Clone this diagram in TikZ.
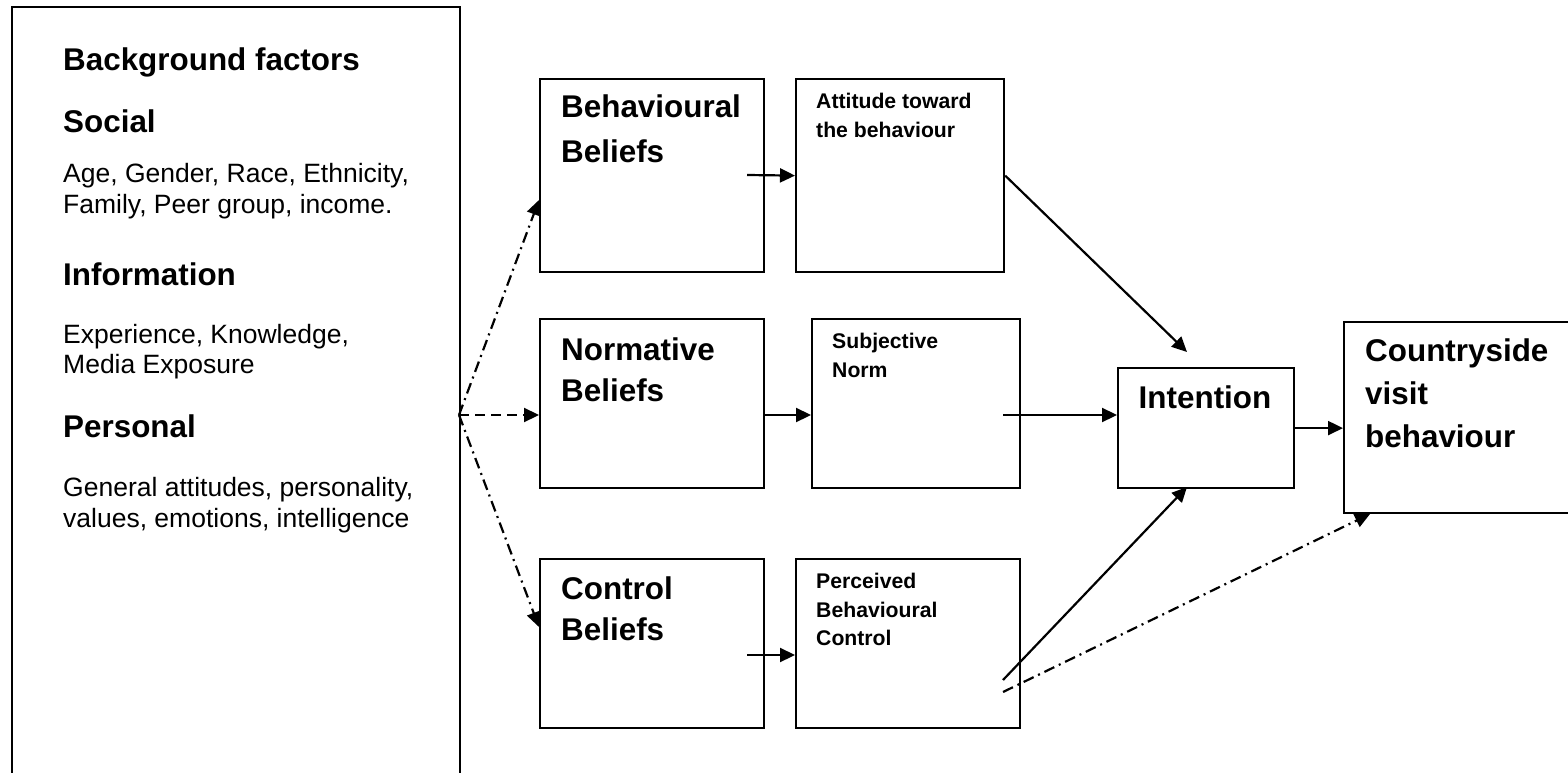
\documentclass[tikz,border=0pt]{standalone}
\usepackage{fontspec}
\setmainfont{Liberation Sans}
\usetikzlibrary{arrows.meta}
\tikzset{
  box/.style={draw, line width=2.2pt, inner sep=0pt, anchor=north west},
  conn/.style={line width=2.2pt, -{Triangle[length=15pt,width=14pt]}},
  ddot/.style={conn, dash pattern=on 11pt off 5pt on 2pt off 5pt},
  dsh/.style={conn, dash pattern=on 10pt off 6pt},
  bigt/.style={font=\fontsize{31.4}{38}\selectfont\bfseries, anchor=base west, inner sep=0pt},
  bodyt/.style={font=\fontsize{26.5}{31}\selectfont, anchor=base west, inner sep=0pt},
  smallt/.style={font=\fontsize{21.2}{26}\selectfont\bfseries, anchor=base west, inner sep=0pt}
}
\begin{document}
\begin{tikzpicture}[x=1pt,y=-1pt]
\useasboundingbox (0,0) rectangle (1568,773);
\clip (0,0) rectangle (1568,773);
\fill[white] (0,0) rectangle (1568,773);
% boxes
\node[box, minimum width=448pt, minimum height=820pt] (bg) at (11,6) {};
\node[box, minimum width=224pt, minimum height=193pt] (bb) at (539,78) {};
\node[box, minimum width=208pt, minimum height=193pt] (att) at (795,78) {};
\node[box, minimum width=224pt, minimum height=169pt] (nb) at (539,318) {};
\node[box, minimum width=208pt, minimum height=169pt] (sn) at (811,318) {};
\node[box, minimum width=224pt, minimum height=169pt] (cb) at (539,558) {};
\node[box, minimum width=224pt, minimum height=169pt] (pbc) at (795,558) {};
\node[box, minimum width=176pt, minimum height=120pt] (int) at (1117,367) {};
\node[box, minimum width=250pt, minimum height=191pt] (cv) at (1343,321) {};
% left texts
\node[bigt] (l1) at (63,71) {Background factors};
\node[bigt] (l2) at (63,132) {Social};
\node[bodyt] (l3) at (63,182) {Age, Gender, Race, Ethnicity,};
\node[bodyt] (l4) at (63,213) {Family, Peer group, income.};
\node[bigt] (l5) at (63,285) {Information};
\node[bodyt] (l6) at (63,343) {Experience, Knowledge,};
\node[bodyt] (l7) at (63,373) {Media Exposure};
\node[bigt] (l8) at (63,437) {Personal};
\node[bodyt] (l9) at (63,496) {General attitudes, personality,};
\node[bodyt] (l10) at (63,527) {values, emotions, intelligence};
% box texts
\node[bigt] (b1) at (561,118) {Behavioural};
\node[bigt] (b2) at (561,162) {Beliefs};
\node[smallt] (a1) at (816,109) {Attitude toward};
\node[smallt] (a2) at (816,138) {the behaviour};
\node[bigt] (n1) at (561,360) {Normative};
\node[bigt] (n2) at (561,401) {Beliefs};
\node[smallt] (s1) at (832,348) {Subjective};
\node[smallt] (s2) at (832,377) {Norm};
\node[bigt] (c1) at (561,599) {Control};
\node[bigt] (c2) at (561,640) {Beliefs};
\node[smallt] (p1) at (816,588) {Perceived};
\node[smallt] (p2) at (816,617) {Behavioural};
\node[smallt] (p3) at (816,645) {Control};
\node[bigt, anchor=base] (i1) at (1205,408) {Intention};
\node[bigt] (v1) at (1365,361) {Countryside};
\node[bigt] (v2) at (1365,404) {visit};
\node[bigt] (v3) at (1365,447) {behaviour};
% connector end points
\coordinate (src) at (459,415);
\coordinate (bbin) at (539,200);
\coordinate (cbin) at (539,627);
\coordinate (row2) at (0,415);
\coordinate (bbout) at (747,175);
\coordinate (cbout) at (747,655);
\coordinate (snout) at (1003,415);
\coordinate (intl) at (1117,415);
\coordinate (intt) at (1187,352);
\coordinate (intb) at (1187,487);
\coordinate (pbcout) at (1003,680);
\coordinate (pbcout2) at (1003,692);
\coordinate (cvb) at (1370,514);
% connectors
\draw[ddot] (src) -- (bbin);
\draw[dsh] (src) -- (nb.west |- row2);
\draw[ddot] (src) -- (cbin);
\draw[conn] (bbout) -- (att.west);
\draw[conn] (nb.east |- row2) -- (sn.west |- row2);
\draw[conn] (cbout) -- (pbc.west |- cbout);
\draw[conn] (att.east) -- (intt);
\draw[conn] (snout) -- (intl);
\draw[conn] (pbcout) -- (intb);
\draw[conn] (int.east) -- (cv.west |- int.east);
\draw[ddot] (pbcout2) -- (cvb);
\end{tikzpicture}
\end{document}
